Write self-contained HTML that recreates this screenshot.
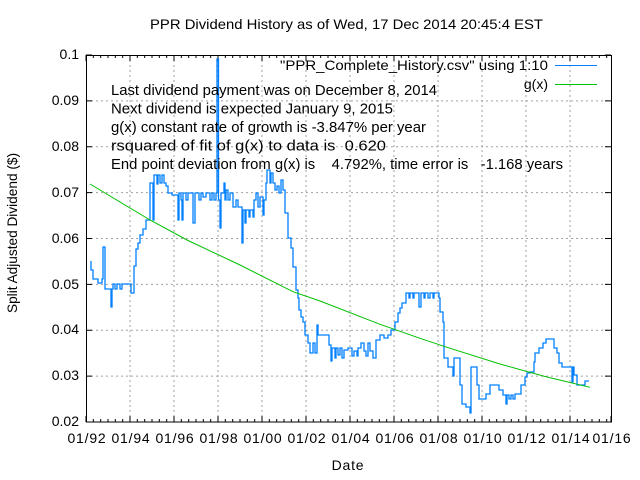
<!DOCTYPE html>
<html><head><meta charset="utf-8"><style>
html,body{margin:0;padding:0;background:#fff;}
svg{display:block;font-family:"Liberation Sans",Arial,sans-serif;}
text{white-space:pre;}
</style></head><body>
<svg width="640" height="480" viewBox="0 0 640 480" xmlns="http://www.w3.org/2000/svg">
<rect width="640" height="480" fill="#fff"/>
<g stroke="#a0a0a0" stroke-width="1" stroke-dasharray="2,3" fill="none">
<path d="M86,100.9H611M86,146.75H611M86,192.6H611M86,238.5H611M86,284.4H611M86,330.25H611M86,376.1H611"/>
<path d="M130,55V422M174,55V422M218,55V422M262,55V422M306,55V422M350,55V422M394,55V422M438,55V422M482,55V422M526,55V422M570,55V422"/>
</g>
<g stroke="#000" stroke-width="1" fill="none">
<rect x="86.5" y="55.5" width="525" height="366.5"/>
<path d="M86,55h6M86,100.9h6M86,146.75h6M86,192.6h6M86,238.5h6M86,284.4h6M86,330.25h6M86,376.1h6M86,422h6M611,55h-6M611,100.9h-6M611,146.75h-6M611,192.6h-6M611,238.5h-6M611,284.4h-6M611,330.25h-6M611,376.1h-6M611,422h-6"/>
<path d="M86,422v-6M130,422v-6M174,422v-6M218,422v-6M262,422v-6M306,422v-6M350,422v-6M394,422v-6M438,422v-6M482,422v-6M526,422v-6M570,422v-6M611,422v-6M86,55v6M130,55v6M174,55v6M218,55v6M262,55v6M306,55v6M350,55v6M394,55v6M438,55v6M482,55v6M526,55v6M570,55v6"/>
<path d="M93.3,422v-3M100.7,422v-3M108,422v-3M115.3,422v-3M122.7,422v-3M137.3,422v-3M144.7,422v-3M152,422v-3M159.3,422v-3M166.7,422v-3M181.3,422v-3M188.7,422v-3M196,422v-3M203.3,422v-3M210.7,422v-3M225.3,422v-3M232.7,422v-3M240,422v-3M247.3,422v-3M254.7,422v-3M269.3,422v-3M276.7,422v-3M284,422v-3M291.3,422v-3M298.7,422v-3M313.3,422v-3M320.7,422v-3M328,422v-3M335.3,422v-3M342.7,422v-3M357.3,422v-3M364.7,422v-3M372,422v-3M379.3,422v-3M386.7,422v-3M401.3,422v-3M408.7,422v-3M416,422v-3M423.3,422v-3M430.7,422v-3M445.3,422v-3M452.7,422v-3M460,422v-3M467.3,422v-3M474.7,422v-3M489.3,422v-3M496.7,422v-3M504,422v-3M511.3,422v-3M518.7,422v-3M533.3,422v-3M540.7,422v-3M548,422v-3M555.3,422v-3M562.7,422v-3M577.3,422v-3M584.7,422v-3M592,422v-3M599.3,422v-3M606.7,422v-3"/>
<path d="M93.3,55v3M100.7,55v3M108,55v3M115.3,55v3M122.7,55v3M137.3,55v3M144.7,55v3M152,55v3M159.3,55v3M166.7,55v3M181.3,55v3M188.7,55v3M196,55v3M203.3,55v3M210.7,55v3M225.3,55v3M232.7,55v3M240,55v3M247.3,55v3M254.7,55v3M269.3,55v3M276.7,55v3M284,55v3M291.3,55v3M298.7,55v3M313.3,55v3M320.7,55v3M328,55v3M335.3,55v3M342.7,55v3M357.3,55v3M364.7,55v3M372,55v3M379.3,55v3M386.7,55v3M401.3,55v3M408.7,55v3M416,55v3M423.3,55v3M430.7,55v3M445.3,55v3M452.7,55v3M460,55v3M467.3,55v3M474.7,55v3M489.3,55v3M496.7,55v3M504,55v3M511.3,55v3M518.7,55v3M533.3,55v3M540.7,55v3M548,55v3M555.3,55v3M562.7,55v3M577.3,55v3M584.7,55v3M592,55v3M599.3,55v3M606.7,55v3"/>
</g>
<path fill="none" stroke="#0080ff" stroke-width="1.3" d="M91,261V270H93V279H98V283H102V279H103V247H105V289H111V307H112V289H113V284H115V289H117V284H120V289H122V284H131V293H134V266H136V249H138V243H140V235H143V229H146V220H150V183H153V220H154V175H157V184H158V175H160V183H162V175H164V183H166V186H168V193H172V195H178V220H179V193H181V200H182V220H183V193H186V200H188V193H193V223H195V193H199V200H201V193H203V197H206V193H210V200H212V193H214V200H216V193H217V59H218.5V200H220V228H221V193H224V183H225V200H226V190H228V200H230V193H233V207H236V200H238V207H242V243H243V210H245V223H246V210H249V217H250V210H253V217H254V200H256V193H258V207H260V197H263V215H264V200H266V183H267V170H270V183H271V173H273V183H275V190H277V186H279V193H281V180H283V190H285V213H288V238H291V248H293V267H296V290H298V298H299V310H301V317H303V322H305V335H308V343H310V353H313V343H315V353H317V325H318V335H329V345H331V361H332V348H335V358H336V348H338V355H340V348H342V358H344V350H348V348H352V356H354V351H357V356H358V348H361V343H364V351H366V356H368V343H370V351H373V358H376V340H380V335H384V338H388V335H391V330H395V322H398V313H400V308H402V303H406V293H409V298H410V293H413V298H414V293H419V307H421V293H424V298H425V293H428V298H430V293H433V298H434V293H439V298H440V312H443V322H444V358H448V367H453V376H454V358H460V385H462V404H466V407H470V413H471V367H477V385H479V399H486V394H490V385H499V390H503V395H506V404H507V395H509V399H511V395H513V399H515V394H521V385H525V377H527V373H530V372H534V362H535V353H539V348H543V343H546V339H554V348H557V353H559V363H562V367H572V382H573V367H574V375H577V385H585V381H589"/>
<polyline fill="none" stroke="#00c000" stroke-width="1" points="90,184 150,220 187,240 240,265 293,291.7 320,301 380,324.3 420,338.3 447,347.3 500,364 545,376.5 590,387.3"/>
<text x="17" y="233" font-size="14" text-anchor="middle" transform="rotate(-90 17 233)" textLength="160" lengthAdjust="spacingAndGlyphs">Split Adjusted Dividend ($)</text>
<g font-size="14" text-anchor="end">
<text x="79" y="59">0.1</text><text x="79" y="105">0.09</text><text x="79" y="151">0.08</text><text x="79" y="197">0.07</text><text x="79" y="243">0.06</text><text x="79" y="289">0.05</text><text x="79" y="334">0.04</text><text x="79" y="380">0.03</text><text x="79" y="426">0.02</text>
</g>
<g font-size="14" text-anchor="middle" letter-spacing="0.8">
<text x="87" y="443">01/92</text><text x="131" y="443">01/94</text><text x="175" y="443">01/96</text><text x="219" y="443">01/98</text><text x="263" y="443">01/00</text><text x="307" y="443">01/02</text><text x="351" y="443">01/04</text><text x="395" y="443">01/06</text><text x="439" y="443">01/08</text><text x="483" y="443">01/10</text><text x="527" y="443">01/12</text><text x="571" y="443">01/14</text><text x="612" y="443">01/16</text>
<text x="348" y="470">Date</text>
</g>
<text x="150" y="29" font-size="14" textLength="393" lengthAdjust="spacingAndGlyphs">PPR Dividend History as of Wed, 17 Dec 2014 20:45:4 EST</text>
<g font-size="14.5">
<text x="111" y="95" textLength="326" lengthAdjust="spacingAndGlyphs">Last dividend payment was on December 8, 2014</text>
<text x="111" y="113.5" textLength="282" lengthAdjust="spacingAndGlyphs">Next dividend is expected January 9, 2015</text>
<text x="111" y="132" textLength="315" lengthAdjust="spacingAndGlyphs">g(x) constant rate of growth is -3.847% per year</text>
<text x="111" y="150.5" textLength="275" lengthAdjust="spacingAndGlyphs">rsquared of fit of g(x) to data is  0.620</text>
<text x="111" y="169" textLength="452" lengthAdjust="spacingAndGlyphs">End point deviation from g(x) is    4.792%, time error is   -1.168 years</text>
</g>
<g font-size="14" text-anchor="end">
<text x="548" y="70" textLength="268" lengthAdjust="spacingAndGlyphs">"PPR_Complete_History.csv" using 1:10</text>
<text x="548" y="89">g(x)</text>
</g>
<line x1="555" y1="65.5" x2="597" y2="65.5" stroke="#0080ff" stroke-width="1"/>
<line x1="555" y1="84.5" x2="597" y2="84.5" stroke="#00c000" stroke-width="1"/>
</svg>
</body></html>
